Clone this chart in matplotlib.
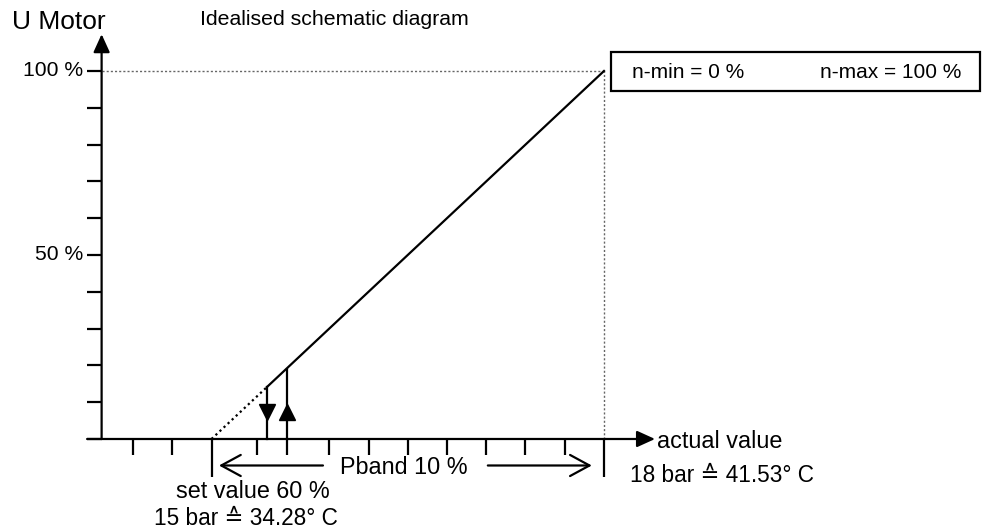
import matplotlib
matplotlib.use("Agg")
import matplotlib.pyplot as plt
from matplotlib.patches import Rectangle
import numpy as np

plt.rcParams['font.family'] = ['Liberation Sans', 'DejaVu Sans']

# ---- data (x in % of range, y in % motor voltage) ----
y_ticks = [0, 10, 20, 30, 40, 50, 60, 70, 80, 90, 100]
y_tick_labels = {100: "100 %", 50: "50 %"}
x_short_ticks = [58, 59, 61.15, 63, 64, 65, 66, 67, 68, 69]
x_long_ticks = [60, 70]
set_value = 60
end_value = 70
line_start = [61.41, 14.1]   # start of solid characteristic
line_end = [70, 100]
arrow_down_x = 61.41
arrow_up_x = 61.93
arrow_up_top = 19.3
nmin_text = "n-min = 0 %"
nmax_text = "n-max = 100 %"

fig = plt.figure(figsize=(9.82, 5.30), dpi=100)
ax = fig.add_axes([0, 0, 1, 1])
ax.set_xlim(54.611, 79.631)
ax.set_ylim(-24.73, 119.29)
ax.axis('off')

K = 'black'
LW = 1.6
y_axis_x = 57.2
x_axis_start = 56.83

# axes with arrows
ax.annotate('', xy=(y_axis_x, 110.0), xytext=(y_axis_x, 0),
            arrowprops=dict(arrowstyle='-|>,head_length=0.55,head_width=0.25',
                            mutation_scale=20, lw=LW, color=K, shrinkA=0, shrinkB=0))
ax.annotate('', xy=(71.3, 0), xytext=(x_axis_start, 0),
            arrowprops=dict(arrowstyle='-|>,head_length=0.55,head_width=0.25',
                            mutation_scale=20, lw=LW, color=K, shrinkA=0, shrinkB=0))

# y ticks
for yt in y_ticks:
    ax.plot([x_axis_start, y_axis_x], [yt, yt], color=K, lw=LW, solid_capstyle='butt')
for yt, lab in y_tick_labels.items():
    ax.text(56.72, yt, lab, ha='right', va='center', fontsize=15.2)

# x ticks
for xt in x_short_ticks:
    ax.plot([xt, xt], [0, -4.35], color=K, lw=LW, solid_capstyle='butt')
for xt in x_long_ticks:
    ax.plot([xt, xt], [0, -10.3], color=K, lw=LW, solid_capstyle='butt')

# dotted reference lines
ax.plot([end_value, end_value], [0, 100], color='#666666', lw=1.0, ls=(0, (1.5, 1.5)))
ax.plot([y_axis_x, end_value], [100, 100], color='#666666', lw=1.0, ls=(0, (1.5, 1.5)))

# characteristic
ax.plot([set_value, line_start[0]], [0, line_start[1]], color=K, lw=1.6, ls=(0, (1, 1.5)))
ax.plot([line_start[0], line_end[0]], [line_start[1], line_end[1]], color=K, lw=LW)

# hysteresis arrows
ax.plot([arrow_down_x, arrow_down_x], [line_start[1], 0], color=K, lw=LW)
ax.plot([arrow_down_x], [7.34], marker='v', ms=11.5, color=K)
ax.plot([arrow_up_x, arrow_up_x], [arrow_up_top, -4.35], color=K, lw=LW, solid_capstyle='butt')
ax.plot([arrow_up_x], [7.47], marker='^', ms=11.5, color=K)

# Pband arrows
ax.annotate('', xy=(60.19, -7.2), xytext=(62.84, -7.2),
            arrowprops=dict(arrowstyle='->,head_length=0.7,head_width=0.38',
                            mutation_scale=20, lw=LW, color=K, shrinkA=0, shrinkB=0))
ax.annotate('', xy=(69.69, -7.2), xytext=(67.04, -7.2),
            arrowprops=dict(arrowstyle='->,head_length=0.7,head_width=0.38',
                            mutation_scale=20, lw=LW, color=K, shrinkA=0, shrinkB=0))
ax.text(64.9, -7.8, "Pband 10 %", ha='center', va='center', fontsize=16.8)

# texts
ax.text(54.92, 113.3, "U Motor", ha='left', va='center', fontsize=19)
ax.text(59.71, 113.9, "Idealised schematic diagram", ha='left', va='center', fontsize=15.3)
ax.text(61.06, -14.4, "set value 60 %", ha='center', va='center', fontsize=16.8)
ax.text(60.88, -21.6, "15 bar \u2259 34.28\u00b0 C", ha='center', va='center', fontsize=16.3)
ax.text(71.35, -0.8, "actual value", ha='left', va='center', fontsize=16.8)
ax.text(70.66, -9.9, "18 bar \u2259 41.53\u00b0 C", ha='left', va='center', fontsize=16.3)

# legend box
ax.add_patch(Rectangle((70.18, 94.6), 79.58 - 70.18, 105.2 - 94.6, fill=False, lw=LW, ec=K))
ax.text(70.71, 99.7, nmin_text, ha='left', va='center', fontsize=15)
ax.text(75.5, 99.7, nmax_text, ha='left', va='center', fontsize=15)

fig.savefig("out.png", dpi=100)
